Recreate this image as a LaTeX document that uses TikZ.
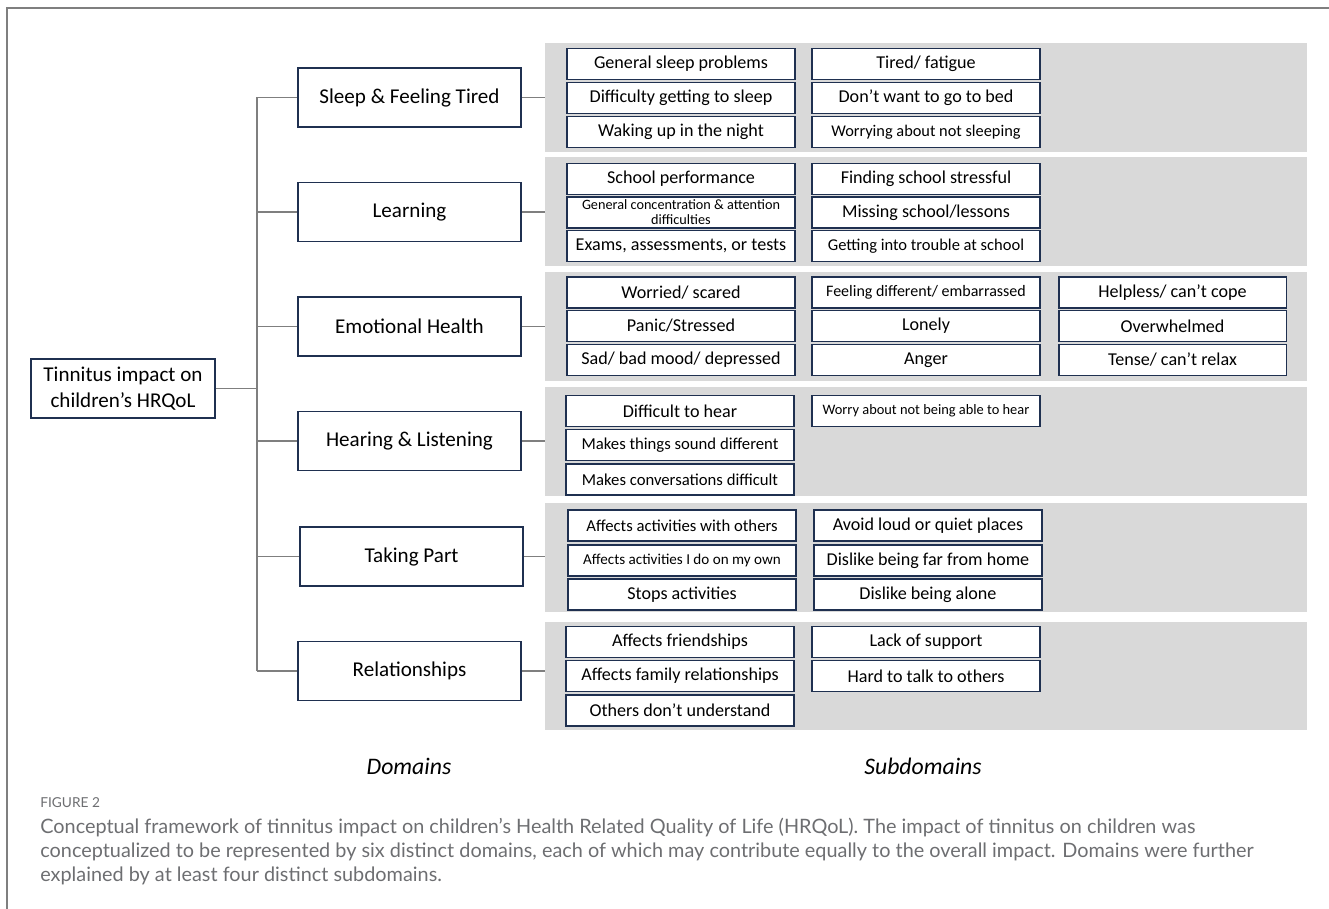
\documentclass[tikz,border=0pt]{standalone}
\usepackage{fontspec}
\setmainfont{Carlito}
\newfontfamily\capfont{Lato}
\usepackage{xcolor}
\usepackage{tikz}
\usetikzlibrary{positioning, calc}

\definecolor{navy}{HTML}{1F3050}
\definecolor{panelgray}{HTML}{D9D9D9}
\definecolor{linegray}{HTML}{7F7F7F}
\definecolor{capgray}{HTML}{6D6E71}

\begin{document}
\begin{tikzpicture}[x=0.02cm, y=-0.02cm,
    box/.style={draw=navy, line width=1.1pt, fill=white, inner sep=1pt, align=center},
    rootbox/.style={box, minimum width=3.68cm, minimum height=1.18cm, font=\fontsize{12}{14.5}\selectfont},
    dombox/.style={box, minimum width=4.46cm, minimum height=1.18cm, font=\fontsize{12}{14.5}\selectfont},
    sub/.style={box, minimum width=4.56cm, minimum height=0.62cm, font=\fontsize{10.3}{12}\selectfont},
    panel/.style={fill=panelgray, minimum width=15.24cm, minimum height=2.18cm, inner sep=0pt},
    conn/.style={draw=linegray, line width=0.6pt}]

      \useasboundingbox (0,0) rectangle (1329,909);
      \draw[linegray, line width=1pt] (1329,8) -- (7,8) -- (7,909);

      % gray panels behind the subdomains
      \node[panel] (panel1) at (926,97.5) {};
      \node[panel] (panel2) at (926,211.5) {};
      \node[panel] (panel3) at (926,326.5) {};
      \node[panel] (panel4) at (926,441.5) {};
      \node[panel] (panel5) at (926,557.5) {};
      \node[panel] (panel6) at (926,676) {};

      \node[rootbox] (root) at (123,388.5) {Tinnitus impact on\\children’s HRQoL};

      \node[dombox] (dom1) at (409.5,97.5) {Sleep \& Feeling Tired};
      \node[dombox] (dom2) at (409.5,212) {Learning};
      \node[dombox] (dom3) at (409.5,326.5) {Emotional Health};
      \node[dombox] (dom4) at (409.5,441) {Hearing \& Listening};
      \node[dombox] (dom5) at (411.5,556.5) {Taking Part};
      \node[dombox] (dom6) at (409.5,671) {Relationships};

      \coordinate (trunk) at (257,0);
      \draw[conn] (dom1.west -| trunk) -- (dom6.west -| trunk);
      \draw[conn] (root) -- (root -| trunk);
      \foreach \d in {1,...,6} {
        \draw[conn] (dom\d.west) -- (dom\d.west -| trunk);
        \draw[conn] (dom\d.east) -- (dom\d.east -| panel\d.west);
      }

      % sleep
      \node[sub] (s11) at (681,64) {General sleep problems};
      \node[sub] (s12) at (681,98) {Difficulty getting to sleep};
      \node[sub] (s13) at (681,132) {Waking up in the night};
      \node[sub] (s14) at (926,64) {Tired/ fatigue};
      \node[sub] (s15) at (926,98) {Don’t want to go to bed};
      \node[sub, font=\fontsize{9.3}{10}\selectfont] (s16) at (926,132) {Worrying about not sleeping};

      % learning
      \node[sub] (s21) at (681,179) {School performance};
      \node[sub, font=\fontsize{8.1}{8.6}\selectfont] (s22) at (681,212.5) {General concentration \& attention\\difficulties};
      \node[sub] (s23) at (681,246) {Exams, assessments, or tests};
      \node[sub] (s24) at (926,179) {Finding school stressful};
      \node[sub] (s25) at (926,212.5) {Missing school/lessons};
      \node[sub, font=\fontsize{9.4}{10}\selectfont] (s26) at (926,246) {Getting into trouble at school};

      % emotional health
      \node[sub] (s31) at (681,292.5) {Worried/ scared};
      \node[sub] (s32) at (681,326) {Panic/Stressed};
      \node[sub] (s33) at (681,360) {Sad/ bad mood/ depressed};
      \node[sub, font=\fontsize{9.1}{10}\selectfont] (s34) at (926,292.5) {Feeling different/ embarrassed};
      \node[sub] (s35) at (926,326) {Lonely};
      \node[sub] (s36) at (926,360) {Anger};
      \node[sub] (s37) at (1172.5,292.5) {Helpless/ can’t cope};
      \node[sub] (s38) at (1172.5,326) {Overwhelmed};
      \node[sub] (s39) at (1172.5,360) {Tense/ can’t relax};

      % hearing
      \node[sub] (s41) at (680,411) {Difficult to hear};
      \node[sub, font=\fontsize{9.5}{10}\selectfont] (s42) at (680,445) {Makes things sound different};
      \node[sub, font=\fontsize{9.5}{10}\selectfont] (s43) at (680,479.5) {Makes conversations difficult};
      \node[sub, font=\fontsize{8.2}{10}\selectfont] (s44) at (926,411) {Worry about not being able to hear};

      % taking part
      \node[sub, font=\fontsize{9.5}{10}\selectfont] (s51) at (682,525.5) {Affects activities with others};
      \node[sub, font=\fontsize{8.6}{10}\selectfont] (s52) at (682,560.5) {Affects activities I do on my own};
      \node[sub] (s53) at (682,594.5) {Stops activities};
      \node[sub] (s54) at (928,525.5) {Avoid loud or quiet places};
      \node[sub] (s55) at (928,560.5) {Dislike being far from home};
      \node[sub] (s56) at (928,594.5) {Dislike being alone};

      % relationships
      \node[sub] (s61) at (680,642) {Affects friendships};
      \node[sub] (s62) at (680,676) {Affects family relationships};
      \node[sub] (s63) at (680,710.5) {Others don’t understand};
      \node[sub] (s64) at (926,642) {Lack of support};
      \node[sub] (s65) at (926,676) {Hard to talk to others};

      \node[font=\fontsize{13.5}{15}\selectfont\itshape] (domlabel) at (409,766) {Domains};
      \node[font=\fontsize{13.5}{15}\selectfont\itshape] (sublabel) at (923,766) {Subdomains};

      % caption
      \node[anchor=west, inner sep=0pt, text=capgray, font=\capfont\fontsize{7.8}{9}\selectfont] (figno) at (40,803) {FIGURE 2};
      \node[anchor=north west, inner sep=0pt, align=left, text=capgray, font=\capfont\fontsize{11.3}{13.6}\selectfont] (caption) at (40,818)
        {Conceptual framework of tinnitus impact on children’s Health Related Quality of Life (HRQoL). The impact of tinnitus on children was\\
         conceptualized to be represented by six distinct domains, each of which may contribute equally to the overall impact. Domains were further\\
         explained by at least four distinct subdomains.};
    \end{tikzpicture}
\end{document}
